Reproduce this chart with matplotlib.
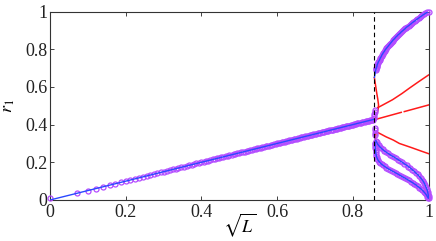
import matplotlib
matplotlib.use("Agg")
import matplotlib.pyplot as plt

# ---------------- data ----------------
x_crit = 0.855  # dashed line position (sqrt(L))

# linear (stable) branch: line and marker samples
lin_line_x = [0.0, 0.856]
lin_line_y = [0.0, 0.428]
lin_mk_x = [0.000, 0.071, 0.100, 0.122, 0.141, 0.158, 0.173, 0.187, 0.200, 0.212,
            0.224, 0.235, 0.245, 0.255, 0.265, 0.274, 0.283, 0.292, 0.300, 0.308,
            0.316, 0.324, 0.332, 0.339, 0.346, 0.354, 0.361, 0.367, 0.374, 0.381,
            0.387, 0.394, 0.400, 0.406, 0.412, 0.418, 0.424, 0.430, 0.436, 0.442,
            0.447, 0.453, 0.458, 0.464, 0.469, 0.474, 0.480, 0.485, 0.490, 0.495,
            0.500, 0.505, 0.510, 0.515, 0.520, 0.524, 0.529, 0.534, 0.539, 0.543,
            0.548, 0.552, 0.557, 0.561, 0.566, 0.570, 0.574, 0.579, 0.583, 0.587,
            0.592, 0.596, 0.600, 0.604, 0.608, 0.612, 0.616, 0.620, 0.624, 0.628,
            0.632, 0.636, 0.640, 0.644, 0.648, 0.652, 0.656, 0.660, 0.663, 0.667,
            0.671, 0.675, 0.678, 0.682, 0.686, 0.689, 0.693, 0.696, 0.700, 0.704,
            0.707, 0.711, 0.714, 0.718, 0.721, 0.725, 0.728, 0.731, 0.735, 0.738,
            0.742, 0.745, 0.748, 0.752, 0.755, 0.758, 0.762, 0.765, 0.768, 0.771,
            0.775, 0.778, 0.781, 0.784, 0.787, 0.791, 0.794, 0.797, 0.800, 0.803,
            0.806, 0.809, 0.812, 0.815, 0.819, 0.822, 0.825, 0.828, 0.831, 0.834,
            0.837, 0.840, 0.843, 0.846, 0.849, 0.851, 0.854]
lin_mk_y = [0.010, 0.035, 0.050, 0.061, 0.071, 0.079, 0.087, 0.094, 0.100, 0.106,
            0.112, 0.117, 0.122, 0.127, 0.132, 0.137, 0.141, 0.146, 0.150, 0.154,
            0.158, 0.162, 0.166, 0.170, 0.173, 0.177, 0.180, 0.184, 0.187, 0.190,
            0.194, 0.197, 0.200, 0.203, 0.206, 0.209, 0.212, 0.215, 0.218, 0.221,
            0.224, 0.226, 0.229, 0.232, 0.235, 0.237, 0.240, 0.242, 0.245, 0.247,
            0.250, 0.252, 0.255, 0.257, 0.260, 0.262, 0.265, 0.267, 0.269, 0.272,
            0.274, 0.276, 0.278, 0.281, 0.283, 0.285, 0.287, 0.289, 0.292, 0.294,
            0.296, 0.298, 0.300, 0.302, 0.304, 0.306, 0.308, 0.310, 0.312, 0.314,
            0.316, 0.318, 0.320, 0.322, 0.324, 0.326, 0.328, 0.330, 0.332, 0.334,
            0.335, 0.337, 0.339, 0.341, 0.343, 0.345, 0.346, 0.348, 0.350, 0.352,
            0.354, 0.355, 0.357, 0.359, 0.361, 0.362, 0.364, 0.366, 0.367, 0.369,
            0.371, 0.372, 0.374, 0.376, 0.377, 0.379, 0.381, 0.382, 0.384, 0.386,
            0.387, 0.389, 0.391, 0.392, 0.394, 0.395, 0.397, 0.398, 0.400, 0.402,
            0.403, 0.405, 0.406, 0.408, 0.409, 0.411, 0.412, 0.414, 0.415, 0.417,
            0.418, 0.420, 0.421, 0.423, 0.424, 0.426, 0.427]

# small stable cluster right at the bifurcation
bif_x = [0.855, 0.856, 0.857, 0.858, 0.858, 0.858, 0.859, 0.859, 0.859]
bif_y = [0.435, 0.447, 0.458, 0.468, 0.476, 0.345, 0.357, 0.369, 0.381]

# upper stable branch
up_x = [0.857, 0.858, 0.859, 0.860, 0.860, 0.861, 0.861, 0.862, 0.863, 0.864,
        0.864, 0.865, 0.866, 0.867, 0.868, 0.870, 0.871, 0.872, 0.873, 0.875,
        0.876, 0.877, 0.879, 0.880, 0.882, 0.884, 0.885, 0.887, 0.889, 0.891,
        0.893, 0.895, 0.897, 0.899, 0.901, 0.903, 0.905, 0.907, 0.910, 0.912,
        0.914, 0.917, 0.919, 0.922, 0.925, 0.927, 0.930, 0.933, 0.936, 0.939,
        0.941, 0.944, 0.948, 0.951, 0.954, 0.957, 0.960, 0.964, 0.967, 0.970,
        0.974, 0.977, 0.981, 0.984, 0.988, 0.992, 0.996, 1.000]
up_y = [0.650, 0.660, 0.670, 0.680, 0.685, 0.690, 0.695, 0.700, 0.705, 0.710,
        0.715, 0.720, 0.725, 0.730, 0.735, 0.740, 0.745, 0.750, 0.755, 0.760,
        0.765, 0.770, 0.775, 0.780, 0.785, 0.790, 0.795, 0.800, 0.805, 0.810,
        0.815, 0.820, 0.825, 0.830, 0.835, 0.840, 0.845, 0.850, 0.855, 0.860,
        0.865, 0.870, 0.875, 0.880, 0.885, 0.890, 0.895, 0.900, 0.905, 0.910,
        0.915, 0.920, 0.925, 0.930, 0.935, 0.940, 0.945, 0.950, 0.955, 0.960,
        0.965, 0.970, 0.975, 0.980, 0.985, 0.990, 0.995, 1.000]

# lower stable branches (outer and inner)
lo_out_x = [0.859, 0.859, 0.859, 0.8595, 0.860, 0.8605, 0.861, 0.862, 0.863, 0.865,
            0.867, 0.870, 0.873, 0.876, 0.880, 0.884, 0.889, 0.893, 0.898, 0.903,
            0.908, 0.913, 0.918, 0.923, 0.928, 0.933, 0.938, 0.943, 0.948, 0.953,
            0.958, 0.962, 0.967, 0.971, 0.976, 0.980, 0.984, 0.987, 0.990, 0.993,
            0.995, 0.997, 0.999]
lo_out_y = [0.305, 0.295, 0.285, 0.275, 0.265, 0.255, 0.245, 0.236, 0.228, 0.219,
            0.210, 0.203, 0.196, 0.190, 0.184, 0.178, 0.172, 0.166, 0.161, 0.155,
            0.150, 0.144, 0.139, 0.133, 0.127, 0.121, 0.116, 0.110, 0.104, 0.098,
            0.092, 0.086, 0.080, 0.073, 0.066, 0.059, 0.052, 0.045, 0.038, 0.031,
            0.025, 0.018, 0.012]
lo_in_x = [0.861, 0.863, 0.865, 0.868, 0.871, 0.875, 0.879, 0.883, 0.888, 0.893,
           0.898, 0.903, 0.909, 0.914, 0.920, 0.925, 0.931, 0.936, 0.942, 0.947,
           0.952, 0.957, 0.962, 0.966, 0.971, 0.975, 0.979, 0.983, 0.986, 0.989,
           0.991, 0.993, 0.995, 0.997, 0.998, 0.999, 1.000, 1.000]
lo_in_y = [0.315, 0.306, 0.298, 0.290, 0.283, 0.275, 0.268, 0.261, 0.254, 0.247,
           0.241, 0.234, 0.228, 0.221, 0.214, 0.207, 0.200, 0.192, 0.185, 0.177,
           0.170, 0.161, 0.153, 0.144, 0.136, 0.127, 0.118, 0.108, 0.099, 0.089,
           0.080, 0.070, 0.060, 0.050, 0.040, 0.030, 0.020, 0.010]

# unstable (red) branches
red_up_x = [0.857, 0.860, 0.863, 0.866, 0.868, 0.867, 0.864, 0.860]
red_up_y = [0.650, 0.610, 0.570, 0.535, 0.505, 0.480, 0.460, 0.440]
red_a_x = [0.866, 0.880, 0.905, 0.930, 0.950, 0.975, 1.000]
red_a_y = [0.490, 0.505, 0.532, 0.565, 0.594, 0.629, 0.663]
red_b1_x = [0.861, 0.928]
red_b1_y = [0.428, 0.465]
red_b2_x = [0.936, 1.000]
red_b2_y = [0.469, 0.504]
red_lo_x = [0.859, 0.860, 0.861, 0.862, 0.872, 0.888, 0.907, 0.923, 0.955, 0.980, 1.000]
red_lo_y = [0.300, 0.330, 0.350, 0.362, 0.352, 0.335, 0.318, 0.300, 0.278, 0.260, 0.246]

x_ticks = [0, 0.2, 0.4, 0.6, 0.8, 1]
x_tick_labels = ["0", "0.2", "0.4", "0.6", "0.8", "1"]
y_ticks = [0, 0.2, 0.4, 0.6, 0.8, 1]
y_tick_labels = ["0", "0.2", "0.4", "0.6", "0.8", "1"]

# ---------------- style ----------------
plt.rcParams['font.family'] = ['Liberation Serif', 'DejaVu Serif']
plt.rcParams['mathtext.fontset'] = 'stix'

BLUE = '#2a48ff'
PURPLE = '#b44cff'
RED = '#ff1a1a'

fig = plt.figure(figsize=(4.36, 2.41), dpi=100)
ax = fig.add_axes([50/436, 41/241, 378.5/436, 188.5/241])

mk = dict(linestyle='none', marker='o', markersize=3.6, markerfacecolor='none',
          markeredgecolor=PURPLE, markeredgewidth=0.9, zorder=3, clip_on=False)

# red unstable branches
for xs, ys in [(red_up_x, red_up_y), (red_a_x, red_a_y), (red_b1_x, red_b1_y),
               (red_b2_x, red_b2_y), (red_lo_x, red_lo_y)]:
    ax.plot(xs, ys, color=RED, lw=1.1, zorder=2)

# stable branches: markers then blue line
ax.plot(lin_mk_x, lin_mk_y, **mk)
ax.plot(bif_x, bif_y, **mk)
ax.plot(up_x[5:], up_y[5:], **mk)
ax.plot(lo_out_x, lo_out_y, **mk)
ax.plot(lo_in_x, lo_in_y, **mk)

ax.plot(lin_line_x, lin_line_y, color=BLUE, lw=1.0, zorder=4)
ax.plot(up_x, up_y, color=BLUE, lw=1.0, zorder=4)
ax.plot(lo_out_x, lo_out_y, color=BLUE, lw=1.0, zorder=4)
ax.plot(lo_in_x, lo_in_y, color=BLUE, lw=1.0, zorder=4)

ax.axvline(x_crit, color='black', lw=0.8, ls=(0, (4, 3)), zorder=5)

ax.set_xlim(0, 1)
ax.set_ylim(0, 1)
ax.set_xticks(x_ticks)
ax.set_xticklabels(x_tick_labels)
ax.set_yticks(y_ticks)
ax.set_yticklabels(y_tick_labels)
ax.tick_params(direction='in', length=3, width=0.6, top=True, right=True,
               labelsize=13, colors='#222222', pad=3)
ax.tick_params(axis='y', pad=2)
for s in ax.spines.values():
    s.set_linewidth(0.8)
    s.set_color('#333333')

ax.set_xlabel(r'$\sqrt{L}$', fontsize=13, labelpad=-7)
ax.set_ylabel(r'$r_1$', fontsize=13, labelpad=6)

fig.savefig('out.png', dpi=100)
